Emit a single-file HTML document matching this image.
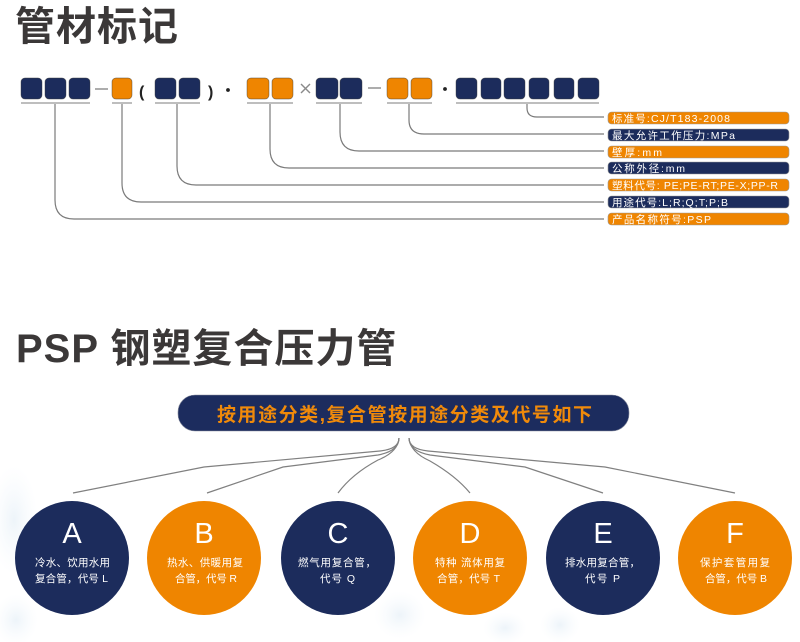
<!DOCTYPE html>
<html>
<head>
<meta charset="utf-8">
<style>
  html,body{margin:0;padding:0;background:#fff;}
  svg{display:block;}
  text{font-family:"Liberation Sans","Noto Sans CJK SC",sans-serif;}
</style>
</head>
<body>
<svg width="800" height="642" viewBox="0 0 800 642" xmlns="http://www.w3.org/2000/svg">
  <defs>
    <radialGradient id="ice" cx="50%" cy="50%" r="50%">
      <stop offset="0%" stop-color="#dbe9f4" stop-opacity="0.5"/>
      <stop offset="100%" stop-color="#eef5fb" stop-opacity="0"/>
    </radialGradient>
  </defs>
  <rect width="800" height="642" fill="#fff"/>

  <!-- faint ice background -->
  <ellipse cx="14" cy="520" rx="24" ry="55" fill="url(#ice)"/>
  <ellipse cx="16" cy="620" rx="22" ry="26" fill="url(#ice)"/>
  <ellipse cx="400" cy="615" rx="26" ry="24" fill="url(#ice)"/>
  <ellipse cx="505" cy="628" rx="22" ry="16" fill="url(#ice)"/>
  <ellipse cx="560" cy="625" rx="20" ry="18" fill="url(#ice)"/>

  <!-- Title 1 -->
  <text x="15" y="40" font-size="40" font-weight="bold" fill="#3b3838" letter-spacing="1">管材标记</text>

  <!-- code boxes -->
  <g stroke="#3c3c3c" stroke-width="0.7" stroke-opacity="0.6">
    <rect x="21" y="78" width="21" height="21" rx="4" fill="#1c2c5c"/>
    <rect x="45" y="78" width="21" height="21" rx="4" fill="#1c2c5c"/>
    <rect x="69" y="78" width="21" height="21" rx="4" fill="#1c2c5c"/>
    <rect x="112" y="78" width="20" height="21" rx="4" fill="#ef8500"/>
    <rect x="155" y="78" width="21" height="21" rx="4" fill="#1c2c5c"/>
    <rect x="179" y="78" width="21" height="21" rx="4" fill="#1c2c5c"/>
    <rect x="247" y="78" width="22" height="21" rx="4" fill="#ef8500"/>
    <rect x="272" y="78" width="21" height="21" rx="4" fill="#ef8500"/>
    <rect x="316" y="78" width="22" height="21" rx="4" fill="#1c2c5c"/>
    <rect x="340" y="78" width="22" height="21" rx="4" fill="#1c2c5c"/>
    <rect x="387" y="78" width="21" height="21" rx="4" fill="#ef8500"/>
    <rect x="411" y="78" width="21" height="21" rx="4" fill="#ef8500"/>
    <rect x="456" y="78" width="21" height="21" rx="4" fill="#1c2c5c"/>
    <rect x="481" y="78" width="20" height="21" rx="4" fill="#1c2c5c"/>
    <rect x="504" y="78" width="21" height="21" rx="4" fill="#1c2c5c"/>
    <rect x="529" y="78" width="20" height="21" rx="4" fill="#1c2c5c"/>
    <rect x="554" y="78" width="20" height="21" rx="4" fill="#1c2c5c"/>
    <rect x="578" y="78" width="21" height="21" rx="4" fill="#1c2c5c"/>
  </g>

  <!-- separators -->
  <g stroke="#8a8a8a" stroke-width="1.4" fill="none">
    <line x1="95" y1="89" x2="108" y2="89"/>
    <line x1="368" y1="88" x2="381" y2="88"/>
    <line x1="301" y1="84" x2="310" y2="93"/>
    <line x1="310" y1="84" x2="301" y2="93"/>
  </g>
  <text x="139" y="97" font-size="16" font-weight="bold" fill="#222">(</text>
  <text x="208" y="97" font-size="16" font-weight="bold" fill="#222">)</text>
  <circle cx="228" cy="90" r="1.9" fill="#222"/>
  <circle cx="445" cy="89" r="1.9" fill="#222"/>

  <!-- underlines -->
  <g stroke="#a8a8a8" stroke-width="1.5">
    <line x1="21" y1="103" x2="90" y2="103"/>
    <line x1="112" y1="103" x2="132" y2="103"/>
    <line x1="155" y1="103" x2="200" y2="103"/>
    <line x1="247" y1="103" x2="293" y2="103"/>
    <line x1="316" y1="103" x2="362" y2="103"/>
    <line x1="387" y1="103" x2="432" y2="103"/>
    <line x1="456" y1="103" x2="599" y2="103"/>
  </g>

  <!-- connectors -->
  <g stroke="#7a7a7a" stroke-width="1.2" fill="none">
    <path d="M527,104 L527,108 Q527,117 537,117 L604,117"/>
    <path d="M409,104 L409,120 Q409,134 424,134 L604,134"/>
    <path d="M340,104 L340,132 Q340,151 359,151 L604,151"/>
    <path d="M270,104 L270,149 Q270,168 289,168 L604,168"/>
    <path d="M177,104 L177,166 Q177,185 196,185 L604,185"/>
    <path d="M122,104 L122,183 Q122,202 141,202 L604,202"/>
    <path d="M55,104 L55,200 Q55,219 74,219 L604,219"/>
  </g>

  <!-- labels -->
  <g stroke="#9a9a9a" stroke-width="0.6">
    <rect x="608" y="112" width="181" height="12" rx="3.5" fill="#ef8500"/>
    <rect x="608" y="129" width="181" height="12" rx="3.5" fill="#1c2c5c"/>
    <rect x="608" y="146" width="181" height="12" rx="3.5" fill="#ef8500"/>
    <rect x="608" y="162" width="181" height="12" rx="3.5" fill="#1c2c5c"/>
    <rect x="608" y="179" width="181" height="12" rx="3.5" fill="#ef8500"/>
    <rect x="608" y="196" width="181" height="12" rx="3.5" fill="#1c2c5c"/>
    <rect x="608" y="213" width="181" height="12" rx="3.5" fill="#ef8500"/>
  </g>
  <g fill="#fff" font-size="10.5">
    <text x="612" y="122" textLength="118" lengthAdjust="spacing">标准号:CJ/T183-2008</text>
    <text x="612" y="139" textLength="123" lengthAdjust="spacing">最大允许工作压力:MPa</text>
    <text x="612" y="156" textLength="50" lengthAdjust="spacing">壁厚:mm</text>
    <text x="612" y="172" textLength="73" lengthAdjust="spacing">公称外径:mm</text>
    <text x="612" y="189" textLength="166" lengthAdjust="spacing">塑料代号: PE;PE-RT;PE-X;PP-R</text>
    <text x="612" y="206" textLength="116" lengthAdjust="spacing">用途代号:L;R;Q;T;P;B</text>
    <text x="612" y="223" textLength="99" lengthAdjust="spacing">产品名称符号:PSP</text>
  </g>

  <!-- Title 2 -->
  <text x="16" y="362" font-size="40" font-weight="bold" fill="#3b3838" letter-spacing="1">PSP 钢塑复合压力管</text>

  <!-- banner -->
  <rect x="178" y="395" width="451" height="36" rx="17" fill="#1c2c5e" stroke="#8a8fa0" stroke-width="0.6"/>
  <text x="217" y="421" font-size="19" font-weight="bold" fill="#f08a0a" textLength="375" lengthAdjust="spacing">按用途分类,复合管按用途分类及代号如下</text>

  <!-- fan lines -->
  <g stroke="#808080" stroke-width="1.2" fill="none">
    <path d="M399,438 Q399,449 380,451 L204,467 L73,493"/>
    <path d="M399,438 Q399,451 378,455 L283,467 L207,493"/>
    <path d="M399,438 Q398,452 378,460 Q352,474 338,493"/>
    <path d="M409,438 Q410,452 430,461 Q456,476 470,493"/>
    <path d="M409,438 Q409,451 430,455 L525,467 L603,493"/>
    <path d="M409,438 Q409,449 428,451 L605,467 L735,493"/>
  </g>

  <!-- circles -->
  <circle cx="72" cy="558" r="57" fill="#1c2c5c"/>
  <circle cx="204" cy="558" r="57" fill="#ef8500"/>
  <circle cx="338" cy="558" r="57" fill="#1c2c5c"/>
  <circle cx="470" cy="558" r="57" fill="#ef8500"/>
  <circle cx="603" cy="558" r="57" fill="#1c2c5c"/>
  <circle cx="735" cy="558" r="57" fill="#ef8500"/>

  <g fill="#fff" font-size="29" text-anchor="middle" font-weight="300">
    <text x="72" y="543">A</text>
    <text x="204" y="543">B</text>
    <text x="338" y="543">C</text>
    <text x="470" y="543">D</text>
    <text x="603" y="543">E</text>
    <text x="735" y="543">F</text>
  </g>

  <g fill="#fff" font-size="10.5">
    <text x="35" y="566" textLength="75" lengthAdjust="spacing">冷水、饮用水用</text>
    <text x="35" y="582" textLength="73" lengthAdjust="spacing">复合管，代号 L</text>
    <text x="167" y="566" textLength="76" lengthAdjust="spacing">热水、供暖用复</text>
    <text x="175" y="582" textLength="62" lengthAdjust="spacing">合管，代号 R</text>
    <text x="298" y="566" textLength="78" lengthAdjust="spacing">燃气用复合管，</text>
    <text x="320" y="582" textLength="35" lengthAdjust="spacing">代号 Q</text>
    <text x="435" y="566" textLength="70" lengthAdjust="spacing">特种 流体用复</text>
    <text x="437" y="582" textLength="63" lengthAdjust="spacing">合管，代号 T</text>
    <text x="565" y="566" textLength="75" lengthAdjust="spacing">排水用复合管，</text>
    <text x="585" y="582" textLength="35" lengthAdjust="spacing">代号 P</text>
    <text x="700" y="566" textLength="70" lengthAdjust="spacing">保护套管用复</text>
    <text x="705" y="582" textLength="62" lengthAdjust="spacing">合管，代号 B</text>
  </g>
</svg>
</body>
</html>
